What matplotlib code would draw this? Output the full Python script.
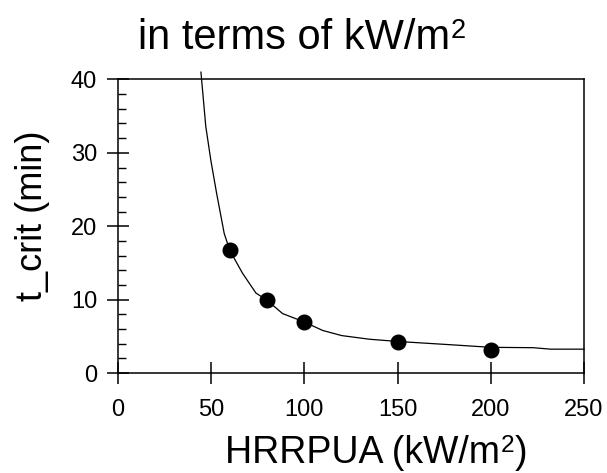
import matplotlib
matplotlib.use('Agg')
import matplotlib.pyplot as plt
from matplotlib.ticker import MultipleLocator

plt.rcParams['font.family'] = ['Liberation Sans', 'DejaVu Sans']

# measured critical times
hrrpua = [60, 80, 100, 150, 200]
t_crit = [16.7, 9.9, 6.95, 4.2, 3.1]

# fitted curve, sampled
fit_x = [44.5, 47.1, 49.8, 52.9, 57.0, 60, 66.8, 74.0, 80, 88.3, 100, 109.8,
         120, 135, 150, 178, 200, 222.8, 232, 250]
fit_y = [41, 33.6, 29.0, 24.5, 19.0, 16.7, 13.6, 10.9, 9.9, 8.1, 6.95, 5.8,
         5.1, 4.6, 4.3, 3.86, 3.5, 3.45, 3.25, 3.25]

x_ticks = [0, 50, 100, 150, 200, 250]
y_ticks = [0, 10, 20, 30, 40]


def text_with_sup(fig, ax, x, y, before, sup, after, size):
    """Write before + superscript + after, all in the same font."""
    main = fig.text(x, y, before, fontsize=size, ha='left', va='baseline')
    sup_t = ax.annotate(sup, xy=(1, 1), xycoords=main, xytext=(0.5, 0),
                        textcoords='offset points', fontsize=size * 0.65,
                        ha='left', va='top', annotation_clip=False)
    if after:
        ax.annotate(after, xy=(1, 0), xycoords=(sup_t, main), xytext=(0.5, 0),
                    textcoords='offset points', fontsize=size,
                    ha='left', va='bottom', annotation_clip=False)


fig = plt.figure(figsize=(6.07, 4.73), dpi=100)
ax = fig.add_axes([0.1944, 0.2114, 0.7676, 0.6206])

ax.plot(fit_x, fit_y, color='black', linewidth=0.9, clip_on=False)
ax.plot(hrrpua, t_crit, 'o', color='black', markersize=10.5, clip_on=False)

ax.set_xlim(0, 250)
ax.set_ylim(0, 40)
ax.set_xticks(x_ticks)
ax.set_yticks(y_ticks)
ax.yaxis.set_minor_locator(MultipleLocator(2))

ax.tick_params(axis='both', which='major', direction='inout', length=16,
               width=1.1, labelsize=17, top=False, right=False)
ax.tick_params(axis='x', which='major', pad=11)
ax.tick_params(axis='y', which='major', pad=7)
ax.tick_params(axis='y', which='minor', direction='in', length=6, width=1.0)

for s in ax.spines.values():
    s.set_linewidth(1.1)

ax.set_ylabel('t_crit (min)', fontsize=26)
ax.yaxis.set_label_coords(-0.145, 0.535)

text_with_sup(fig, ax, 225 / 607, 1 - 463 / 473, 'HRRPUA (kW/m', '2', ')', 27)
text_with_sup(fig, ax, 138 / 607, 1 - 49 / 473, 'in terms of kW/m', '2', '', 30)

fig.savefig('out.png', dpi=100)
